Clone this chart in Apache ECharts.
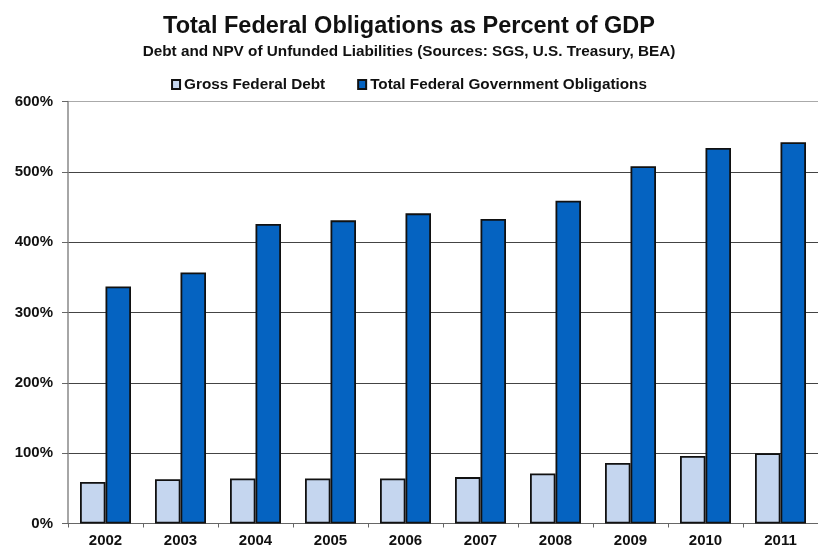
<!DOCTYPE html>
<html>
<head>
<meta charset="utf-8">
<script src="https://cdn.jsdelivr.net/npm/echarts@6/dist/echarts.min.js"></script>
<style>html,body{margin:0;padding:0;background:#fff}#c{width:818px;height:550px}</style>
</head>
<body>
<div id="c"></div>
<script>
const years = ['2002','2003','2004','2005','2006','2007','2008','2009','2010','2011'];
const grossDebt = [59, 63, 64, 64, 64, 66, 71, 86, 96, 100];
const totalObligations = [337, 357, 426, 431, 441, 433, 459, 508, 534, 542];
const yTicks = [0, 100, 200, 300, 400, 500, 600];

const chart = echarts.init(document.getElementById('c'));
const F = 'Liberation Sans, Arial, sans-serif';
chart.setOption({
  animation: false,
  backgroundColor: '#fff',
  title: [{
    text: 'Total Federal Obligations as Percent of GDP',
    left: 'center', top: 10,
    textStyle: {fontFamily: F, fontWeight: 'bold', fontSize: 23.5, color: '#111'}
  }, {
    text: 'Debt and NPV of Unfunded Liabilities (Sources: SGS, U.S. Treasury, BEA)',
    left: 'center', top: 39,
    textStyle: {fontFamily: F, fontWeight: 'bold', fontSize: 15.3, color: '#111'}
  }],
  legend: {
    top: 72, left: 'center', itemWidth: 8, itemHeight: 9, itemGap: 32, icon: 'rect',
    textStyle: {fontFamily: F, fontWeight: 'bold', fontSize: 15.3, color: '#111', padding: [0,0,0,-1]},
    data: ['Gross Federal Debt', 'Total Federal Government Obligations']
  },
  grid: {left: 68, right: -8, top: 101.5, bottom: 26.5, containLabel: false},
  xAxis: {
    type: 'category', data: years,
    axisLine: {lineStyle: {color: '#666', width: 1}},
    axisTick: {show: true, length: 4, lineStyle: {color: '#666'}},
    axisLabel: {fontFamily: F, fontWeight: 'bold', fontSize: 15, color: '#111', margin: 10}
  },
  yAxis: {
    type: 'value', min: 0, max: 600, interval: 100,
    axisLine: {show: true, lineStyle: {color: '#888', width: 1.5}},
    axisTick: {show: true, length: 6, lineStyle: {color: '#666'}},
    axisLabel: {fontFamily: F, fontWeight: 'bold', fontSize: 15, color: '#111', margin: 15,
      formatter: v => yTicks.includes(v) ? v + '%' : ''},
    splitLine: {lineStyle: {color: ['#555','#444','#444','#444','#444','#444','#aaa'], width: 1}}
  },
  series: [{
    name: 'Gross Federal Debt', type: 'bar', data: grossDebt,
    barWidth: 25.5, barGap: '0%',
    itemStyle: {color: '#c5d6ef', borderColor: '#111', borderWidth: 1.8}
  }, {
    name: 'Total Federal Government Obligations', type: 'bar', data: totalObligations,
    barWidth: 25.5, barGap: '0%',
    itemStyle: {color: '#0563c1', borderColor: '#111', borderWidth: 1.8}
  }]
});
</script>
</body>
</html>
